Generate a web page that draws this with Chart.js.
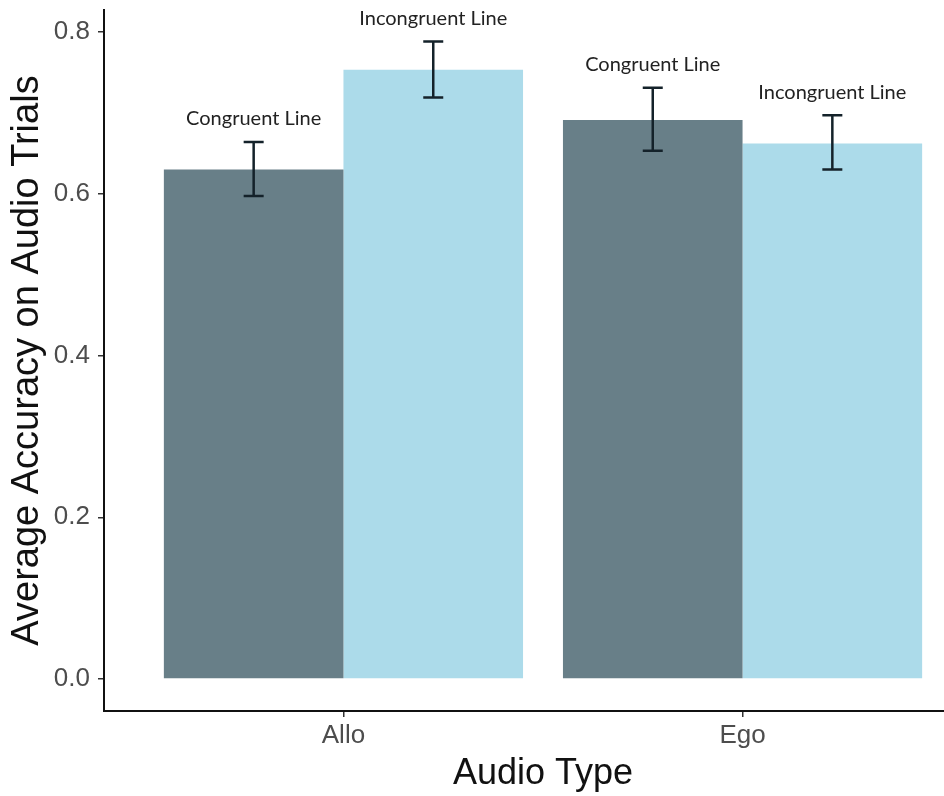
<!DOCTYPE html>
<html>
<head>
<meta charset="utf-8">
<script src="https://cdn.jsdelivr.net/npm/chart.js@4"></script>
<style>
  html, body { margin: 0; padding: 0; background: #fff; overflow: hidden; }
  #wrap { position: relative; width: 992px; height: 796px; }
</style>
</head>
<body>
<div id="wrap"><canvas id="chartAccuracy"></canvas></div>
<script>
// Datos de la gráfica
const categories = ['Allo', 'Ego'];
const seriesNames = ['Congruent Line', 'Incongruent Line'];
const congruentMean = [0.630, 0.691];
const incongruentMean = [0.753, 0.662];
const congruentLow = [0.597, 0.653];
const congruentHigh = [0.664, 0.731];
const incongruentLow = [0.719, 0.630];
const incongruentHigh = [0.788, 0.697];
const yTicks = [0.0, 0.2, 0.4, 0.6, 0.8];

const colors = ['#687f88', '#acdbea'];

// Barras de error + etiquetas de serie
const errorBars = {
  id: 'errorBars',
  afterDatasetsDraw(chart) {
    const ctx = chart.ctx;
    const y = chart.scales.y;
    chart.data.datasets.forEach((ds, di) => {
      const meta = chart.getDatasetMeta(di);
      meta.data.forEach((bar, i) => {
        const top = y.getPixelForValue(ds.high[i]);
        const bot = y.getPixelForValue(ds.low[i]);
        const x = bar.x;
        ctx.save();
        ctx.strokeStyle = '#14222a';
        ctx.lineWidth = 2.5;
        ctx.beginPath();
        ctx.moveTo(x, top); ctx.lineTo(x, bot);
        ctx.moveTo(x - 10, top); ctx.lineTo(x + 10, top);
        ctx.moveTo(x - 10, bot); ctx.lineTo(x + 10, bot);
        ctx.stroke();
        ctx.fillStyle = '#222';
        ctx.font = '20px Lato';
        ctx.textAlign = 'center';
        ctx.textBaseline = 'middle';
        ctx.fillText(ds.label, x, top - 23);
        ctx.restore();
      });
    });
  }
};

const ctx = document.getElementById('chartAccuracy').getContext('2d');
new Chart(ctx, {
  type: 'bar',
  data: {
    datasets: [
      {
        label: seriesNames[0],
        data: categories.map((c, i) => ({ x: i + 1, y: congruentMean[i] })),
        low: congruentLow,
        high: congruentHigh,
        backgroundColor: colors[0]
      },
      {
        label: seriesNames[1],
        data: categories.map((c, i) => ({ x: i + 1, y: incongruentMean[i] })),
        low: incongruentLow,
        high: incongruentHigh,
        backgroundColor: colors[1]
      }
    ]
  },
  options: {
    responsive: true,
    maintainAspectRatio: false,
    animation: false,
    categoryPercentage: 0.9,
    barPercentage: 1.0,
    layout: { padding: { left: 0, right: 10, top: 10, bottom: 0 } },
    plugins: {
      legend: { display: false },
      tooltip: { enabled: false }
    },
    scales: {
      x: {
        type: 'linear',
        min: 0.4,
        max: 2.6,
        offset: false,
        afterBuildTicks: s => { s.ticks = categories.map((c, i) => ({ value: i + 1 })); },
        afterFit: s => { s.height = 85; s.paddingLeft = 0; s.paddingRight = 0; },
        ticks: {
          callback: v => categories[v - 1],
          color: '#4d4d4d',
          font: { family: 'Liberation Sans', size: 26 },
          padding: 3,
          maxRotation: 0
        },
        grid: { display: true, drawOnChartArea: false, offset: false, tickLength: 6, color: '#333', lineWidth: 1.5 },
        border: { display: true, color: '#111', width: 2 },
        title: {
          display: true,
          text: 'Audio Type',
          color: '#111',
          font: { family: 'Liberation Sans', size: 36 },
          padding: { top: 0, bottom: 0 }
        }
      },
      y: {
        min: -0.0394,
        max: 0.827,
        afterBuildTicks: s => { s.ticks = yTicks.map(v => ({ value: v })); },
        afterFit: s => { s.width = 104; s.paddingTop = 0; s.paddingBottom = 0; },
        ticks: {
          callback: v => v.toFixed(1),
          color: '#4d4d4d',
          font: { family: 'Liberation Sans', size: 26 },
          padding: 8
        },
        grid: { display: true, drawOnChartArea: false, tickLength: 6, color: '#333', lineWidth: 1.5 },
        border: { display: true, color: '#111', width: 2 },
        title: {
          display: true,
          text: 'Average Accuracy on Audio Trials',
          color: '#111',
          font: { family: 'Liberation Sans', size: 38 },
          padding: { top: 5, bottom: 0 }
        }
      }
    }
  },
  plugins: [errorBars]
});
</script>
</body>
</html>
